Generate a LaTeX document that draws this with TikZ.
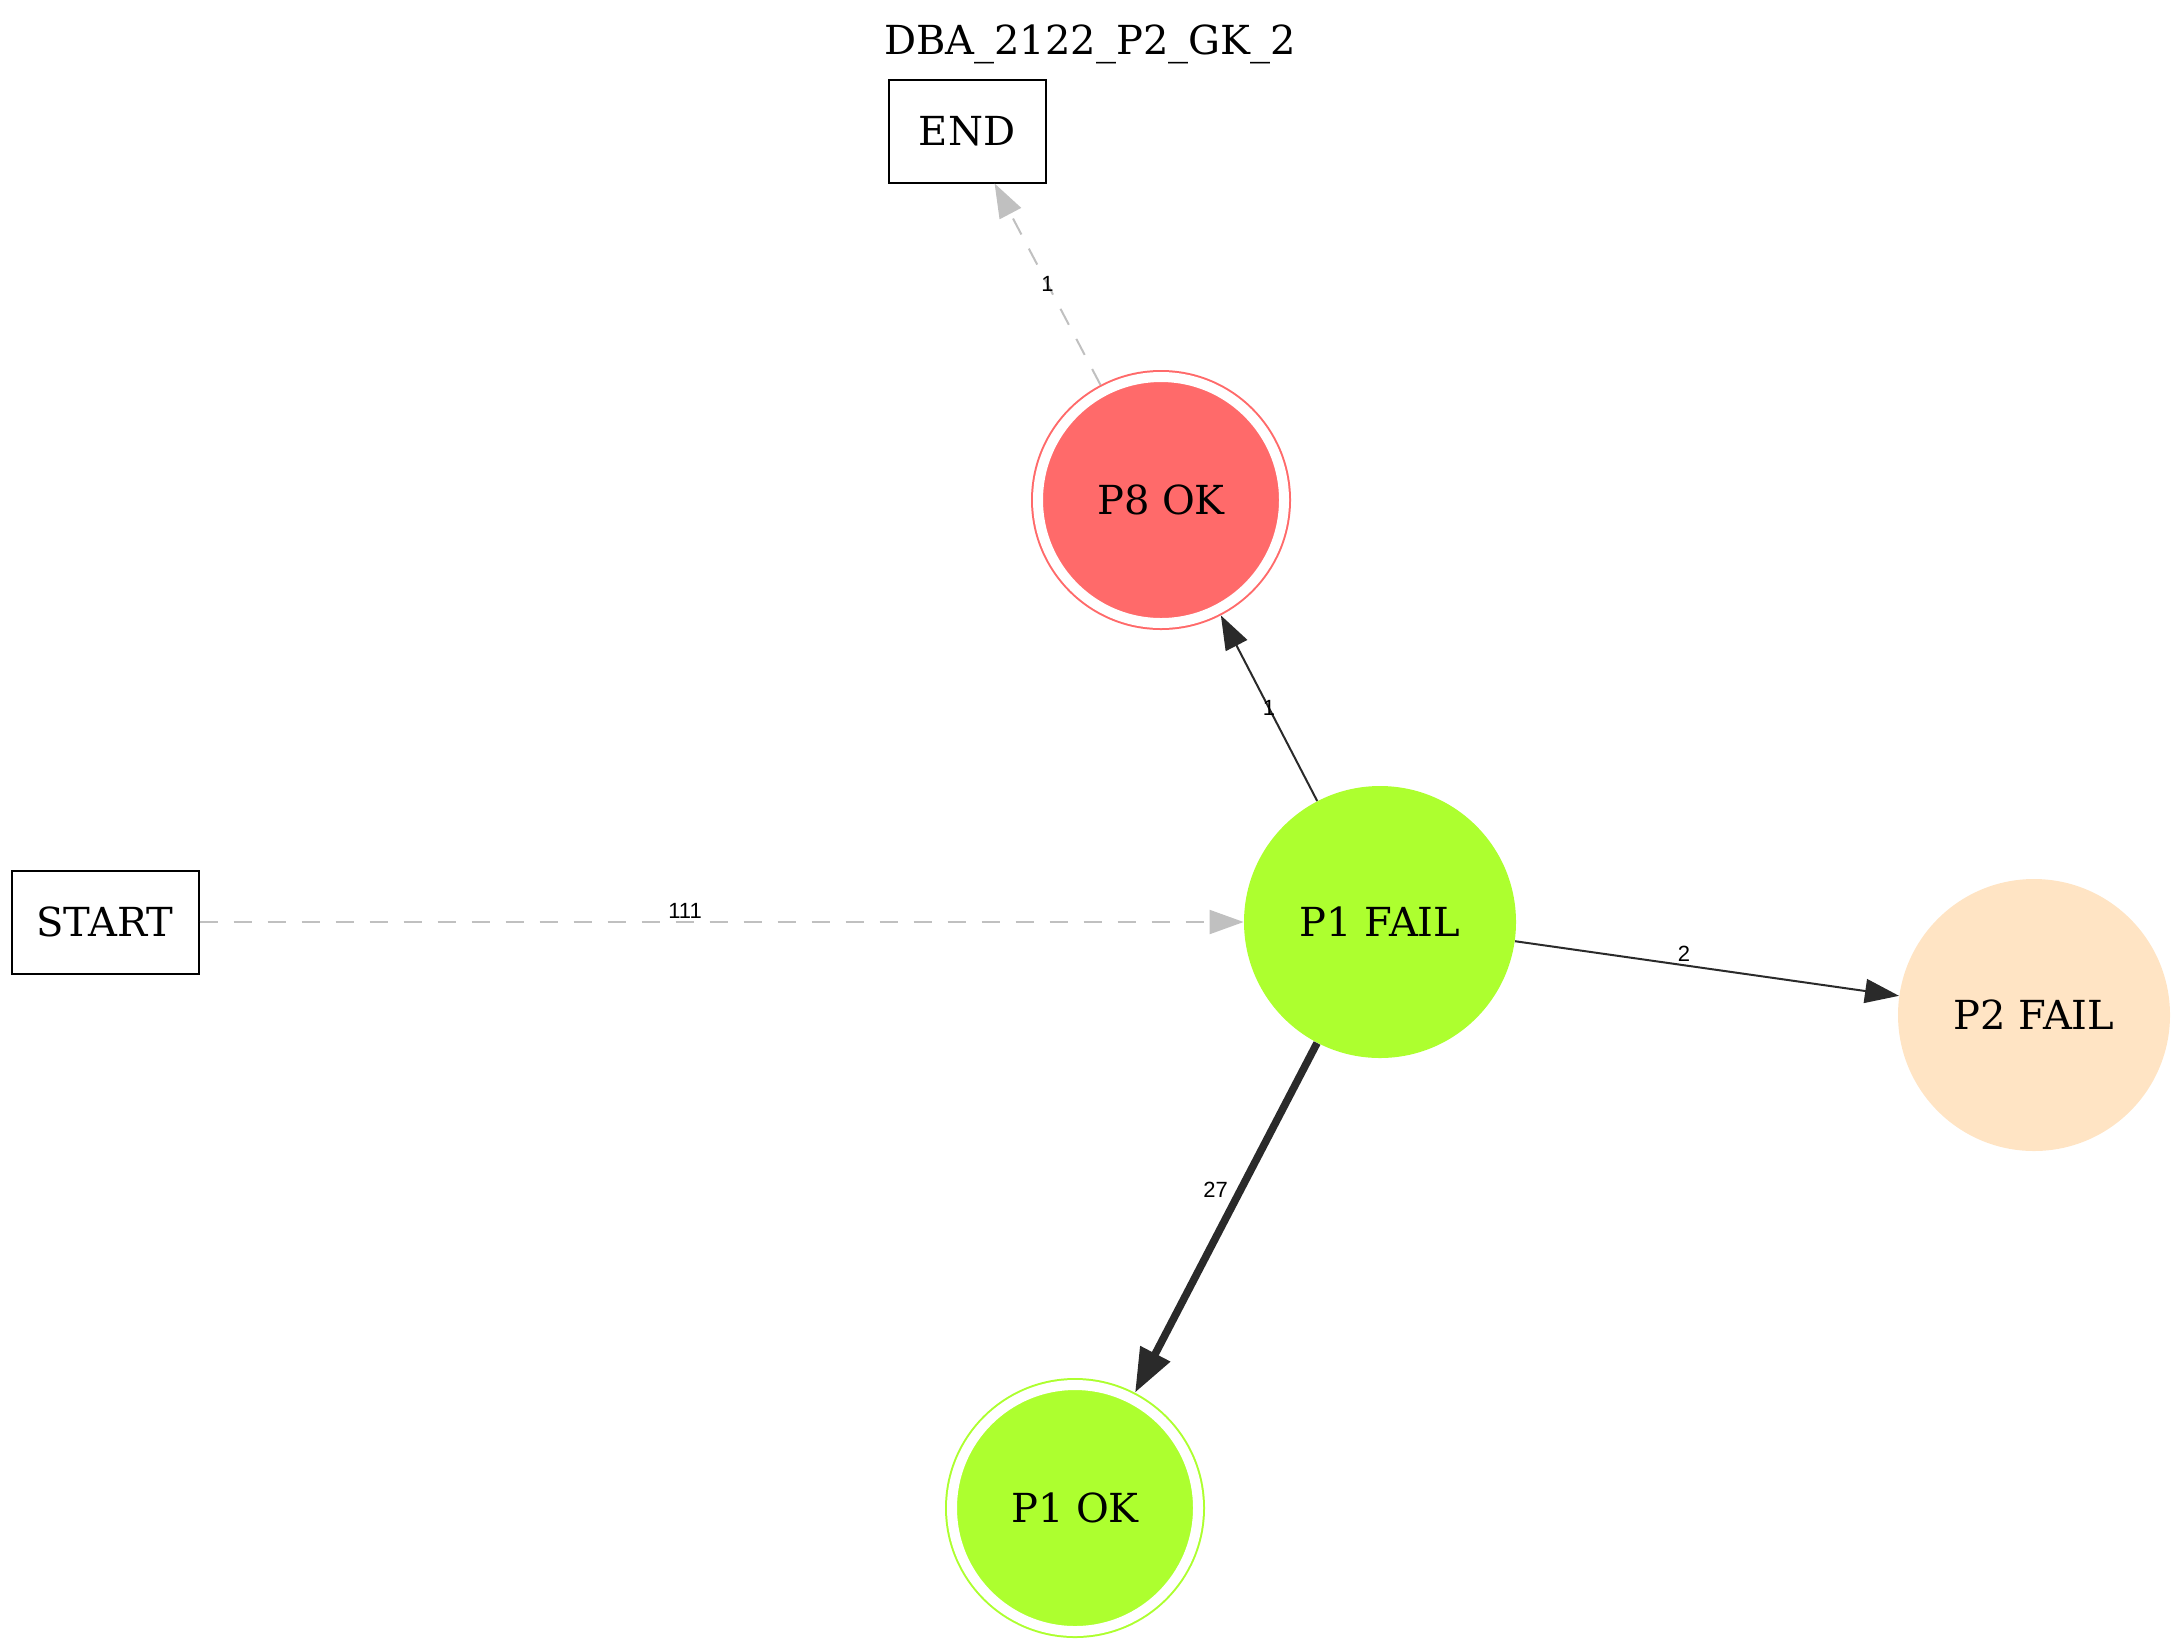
\documentclass[tikz,border=0pt]{standalone}
\usepackage{fontspec}
\setmainfont{DejaVu Serif}
\newfontfamily\lblfont{Liberation Sans}
\usetikzlibrary{arrows.meta}
\definecolor{statered}{HTML}{FF6A6A}
\definecolor{stategreen}{HTML}{ADFF2F}
\definecolor{statebisque}{HTML}{FFE4C4}
\definecolor{edgedark}{HTML}{2A2A2A}
\definecolor{edgegray}{HTML}{C0C0C0}
\tikzset{
  termbox/.style={draw, line width=1pt, minimum height=51.5pt, inner sep=0pt},
  failstate/.style={circle, fill=#1, minimum size=136pt, inner sep=0pt},
  okstate/.style={circle, fill=#1, draw=#1, line width=1pt, double=white,
    double distance=5pt, minimum size=123pt, inner sep=0pt, outer sep=3.5pt},
  solidedge/.style={draw=edgedark, line width=1pt, -{Triangle[length=17pt,width=12pt]}},
  heavyedge/.style={draw=edgedark, line width=3.8pt, -{Triangle[length=22pt,width=16pt]}},
  dashedge/.style={draw=edgegray, line width=1pt, dash pattern=on 9pt off 8pt,
    -{Triangle[length=17pt,width=12pt]}},
  elabel/.style={font=\lblfont\fontsize{11}{13}\selectfont, text=black, inner sep=1.5pt}
}

\begin{document}
\begin{tikzpicture}[x=0.5pt, y=-0.5pt, font=\fontsize{20}{24}\selectfont]

        \useasboundingbox (0,0) rectangle (2183,1650);

        % title
        \node (title) at (1090,44) {DBA\_2122\_P2\_GK\_2};

        % terminals
        \node[termbox, minimum width=78.5pt] (end) at (967,131) {END};
        \node[termbox, minimum width=93.5pt] (start) at (105,922) {START};

        % states
        \node[failstate=stategreen] (p1fail) at (1380,922) {P1 FAIL};
        \node[failstate=statebisque] (p2fail) at (2034,1015) {P2 FAIL};
        \node[okstate=statered] (p8ok) at (1161,500) {P8 OK};
        \node[okstate=stategreen] (p1ok) at (1075,1508) {P1 OK};

        % transitions
        \draw[dashedge] (start) -- node[elabel, pos=0.465, above] {111} (p1fail);
        \draw[dashedge] (p8ok) -- node[elabel, pos=0.5] {1} (end);
        \draw[solidedge] (p1fail) -- node[elabel, pos=0.5] {1} (p8ok);
        \draw[solidedge] (p1fail) -- node[elabel, pos=0.44, above] {2} (p2fail);
        \draw[heavyedge] (p1fail) -- node[elabel, pos=0.42, left, xshift=-3pt] {27} (p1ok);

\end{tikzpicture}
\end{document}
